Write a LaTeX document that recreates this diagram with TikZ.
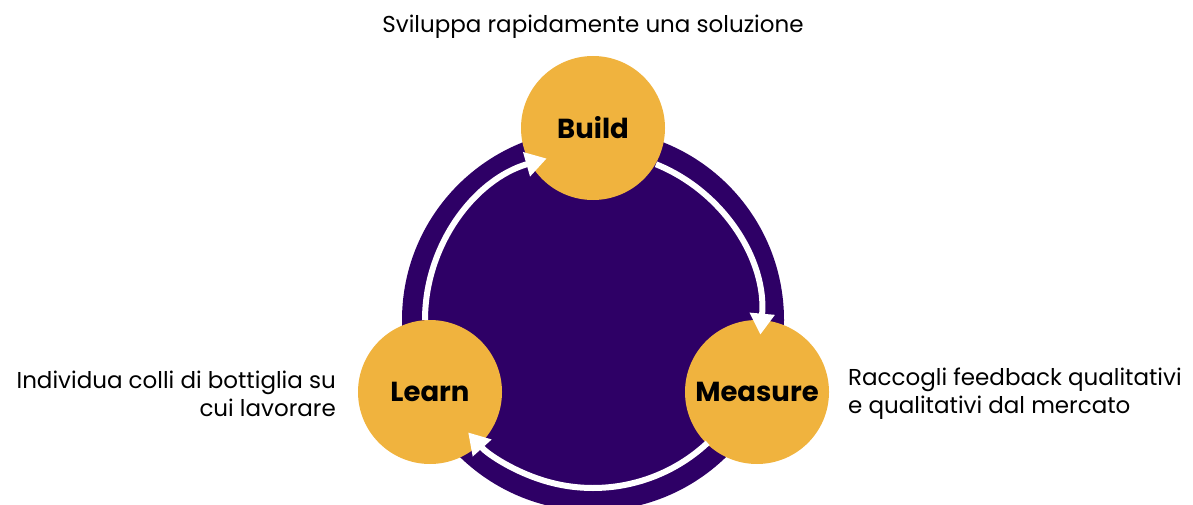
\documentclass[tikz,border=0pt]{standalone}
\usepackage{xcolor}
\usepackage{fontspec}
\setmainfont{Poppins}
\usetikzlibrary{arrows.meta}

\definecolor{loopviolet}{RGB}{46,0,102}
\definecolor{loopgold}{RGB}{240,179,62}

\tikzset{
  phase/.style={circle, fill=loopgold, minimum size=144pt, inner sep=0pt,
    font=\fontsize{27.5}{32}\selectfont\bfseries},
  note/.style={font=\fontsize{23}{28}\selectfont, inner sep=0pt},
  cycle/.style={white, line width=6pt, -{Triangle[width=24pt,length=21pt]}}
}

\begin{document}
\begin{tikzpicture}[x=1pt, y=1pt]
\useasboundingbox (0,0) rectangle (1193,-505);
\clip (0,0) rectangle (1193,-505);

\node[circle, fill=loopviolet, minimum size=382pt, inner sep=0pt] (hub) at (593,-320) {};

\node[phase] (build) at (593,-128) {Build};
\node[phase] (measure) at (757,-392) {Measure};
\node[phase] (learn) at (430,-392) {Learn};

\draw[cycle] ([shift={(180:168)}]hub.center) arc[start angle=180, end angle=106, radius=168];
\draw[cycle] ([shift={(68:168)}]hub.center) arc[start angle=68, end angle=-5, radius=168];
\draw[cycle] ([shift={(-47:168)}]hub.center) arc[start angle=-47, end angle=-138, radius=168];

\node[note, anchor=base] (buildnote) at (593,-33) {Sviluppa rapidamente una soluzione};
\node[note, anchor=east, align=right] (learnnote) at (336,-394)
  {Individua colli di bottiglia su\\cui lavorare};
\node[note, anchor=west, align=left] (measurenote) at (848,-394)
  {Raccogli feedback qualitativi\\e qualitativi dal mercato};
\end{tikzpicture}
\end{document}
